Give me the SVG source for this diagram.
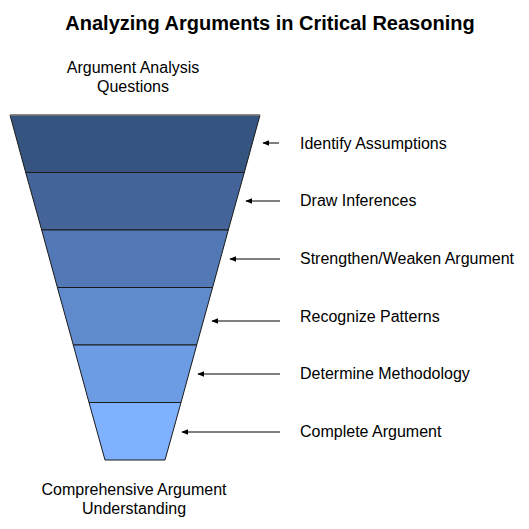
<svg xmlns="http://www.w3.org/2000/svg" width="529" height="529" viewBox="0 0 529 529">
<style>
text{font-family:"Liberation Sans",Arial,sans-serif;fill:#000}
.t{font-size:20px;font-weight:bold}
.l{font-size:16px}
.s{stroke:#1a1a1a;stroke-width:1}
.a{stroke:#000;stroke-width:1;marker-end:url(#ah)}
</style>
<defs>
<marker id="ah" viewBox="0 0 10 10" refX="9" refY="5" markerWidth="7" markerHeight="7" orient="auto" markerUnits="userSpaceOnUse">
<path d="M0,1 L10,5 L0,9 Z" fill="#000"/>
</marker>
</defs>
<rect width="529" height="529" fill="#fff"/>
<text class="t" x="270" y="30" text-anchor="middle">Analyzing Arguments in Critical Reasoning</text>
<text class="l" x="133" y="73" text-anchor="middle">Argument Analysis</text>
<text class="l" x="133" y="92" text-anchor="middle">Questions</text>
<g id="layer1"><polygon class="s" points="10,115 260,115 244.3,172.5 25.7,172.5" fill="#35547f"/></g>
<g id="layer2"><polygon class="s" points="25.7,172.5 244.3,172.5 228.3,230 41.7,230" fill="#45659a"/></g>
<g id="layer3"><polygon class="s" points="41.7,230 228.3,230 212.6,287.5 57.4,287.5" fill="#5278b5"/></g>
<g id="layer4"><polygon class="s" points="57.4,287.5 212.6,287.5 196.7,345 73.3,345" fill="#5f8acb"/></g>
<g id="layer5"><polygon class="s" points="73.3,345 196.7,345 181,402.5 89,402.5" fill="#6c9de4"/></g>
<g id="layer6"><polygon class="s" points="89,402.5 181,402.5 165,460 105,460" fill="#7fb1ff"/></g>
<line x1="10" y1="115" x2="260" y2="115" stroke="#888" stroke-width="1.5"/>
<g id="connectors">
<line class="a" x1="279" y1="143" x2="263" y2="143"/>
<line class="a" x1="280" y1="201" x2="246" y2="201"/>
<line class="a" x1="280" y1="259" x2="230" y2="259"/>
<line class="a" x1="280" y1="321" x2="212" y2="321"/>
<line class="a" x1="280" y1="374" x2="198" y2="374"/>
<line class="a" x1="280" y1="432" x2="182" y2="432"/>
</g>
<g id="labels">
<text class="l" x="300" y="149">Identify Assumptions</text>
<text class="l" x="300" y="206">Draw Inferences</text>
<text class="l" x="300" y="264">Strengthen/Weaken Argument</text>
<text class="l" x="300" y="322">Recognize Patterns</text>
<text class="l" x="300" y="379">Determine Methodology</text>
<text class="l" x="300" y="437">Complete Argument</text>
</g>
<text class="l" x="134" y="495" text-anchor="middle">Comprehensive Argument</text>
<text class="l" x="134" y="514" text-anchor="middle">Understanding</text>
</svg>
